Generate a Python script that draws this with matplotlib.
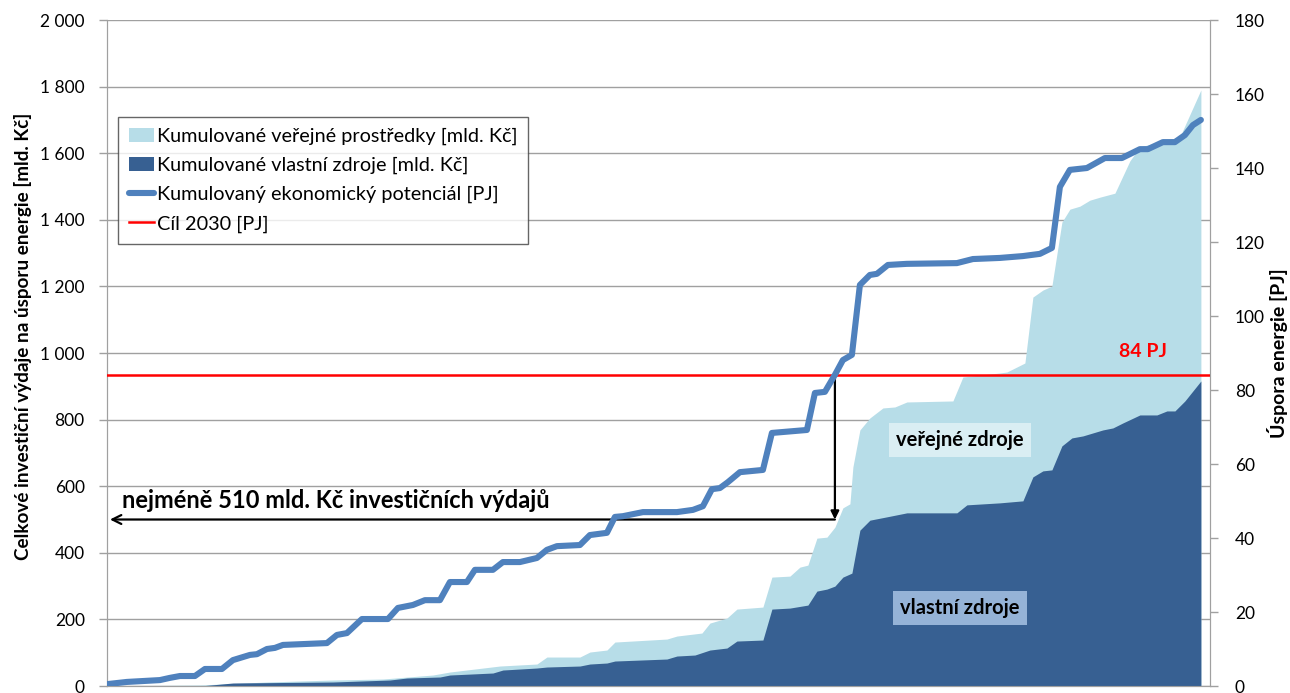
import numpy as np
import matplotlib.pyplot as plt
from matplotlib.patches import Patch
from matplotlib.lines import Line2D
from matplotlib.ticker import FuncFormatter

plt.rcParams['font.family'] = ['Lato', 'DejaVu Sans']

# measures ordered by cost; x = pořadí opatření (cumulative index)
pot_x = [0, 2, 5.3, 6.3, 7.3, 8.8, 9.8, 11.5, 12.6, 14.3, 15.0, 16.0, 16.8, 17.6, 22.0,
         23.0, 24.0, 25.5, 28.1, 29.1, 30.6, 31.8, 33.3, 34.3, 36.0, 36.8, 38.6, 39.6,
         41.3, 43.0, 44.0, 45.0, 47.3, 48.3, 50.0, 50.8, 51.6, 53.6, 57.0, 58.6, 59.6,
         60.5, 61.3, 62.1, 63.3, 65.6, 66.5, 70.0, 70.8, 71.8, 72.8, 73.6, 74.5, 75.3,
         76.3, 77.0, 78.1, 80.0, 85.0, 86.6, 89.3, 91.6, 93.3, 94.5, 95.3, 96.3, 98.0,
         99.8, 101.5, 103.3, 104.1, 105.6, 106.8, 107.8, 108.6, 109.4]
# Kumulovaný ekonomický potenciál [PJ]
pot_pj = [0.5, 1.1, 1.6, 2.2, 2.7, 2.7, 4.6, 4.6, 7.0, 8.4, 8.6, 10.0, 10.3, 11.1, 11.6,
          13.8, 14.3, 18.1, 18.1, 21.1, 21.9, 23.2, 23.2, 28.1, 28.1, 31.4, 31.4, 33.5,
          33.5, 34.6, 36.8, 37.8, 38.1, 40.8, 41.4, 45.7, 45.9, 47.0, 47.0, 47.6, 48.6,
          53.2, 53.5, 55.1, 57.8, 58.4, 68.4, 69.2, 79.2, 79.5, 84.1, 88.1, 89.5, 108.4,
          111.1, 111.4, 113.8, 114.1, 114.3, 115.4, 115.7, 116.2, 116.8, 118.4, 134.9,
          139.5, 140.0, 142.7, 142.7, 145.1, 145.1, 147.0, 147.0, 148.9, 151.6, 153.0]

# Kumulované vlastní zdroje [mld. Kč]
own_x = [0, 9.3, 12.6, 22.6, 28.3, 30.0, 33.3, 34.3, 38.6, 39.6, 43.0, 44.0, 47.3, 48.3,
         50.0, 50.8, 56.0, 57.0, 58.8, 60.3, 62.0, 63.0, 65.6, 66.5, 68.3, 70.1, 71.0,
         72.0, 72.8, 73.6, 74.5, 75.3, 76.3, 78.0, 80.0, 85.0, 86.0, 89.3, 91.6, 92.6,
         93.6, 94.5, 95.5, 96.5, 97.6, 99.6, 100.6, 101.6, 103.3, 105.0, 106.0, 106.8,
         107.8, 109.4]
own_val = [0, 0, 9, 12, 18, 24, 27, 33, 39, 48, 54, 57, 60, 66, 69, 75, 81, 90, 93, 108,
           114, 135, 138, 231, 234, 243, 285, 291, 300, 327, 339, 468, 498, 508, 520, 520,
           544, 550, 556, 628, 646, 649, 721, 745, 751, 769, 775, 790, 814, 814, 826, 826,
           856, 916]

# Kumulované veřejné prostředky (vrchol plochy, vlastní + veřejné) [mld. Kč]
tot_x = [0, 9.3, 16.0, 22.6, 27.6, 32.6, 34.3, 39.3, 43.0, 44.0, 47.3, 48.3, 50.0, 50.8,
         56.0, 57.0, 59.5, 60.3, 62.0, 63.0, 65.6, 66.5, 68.3, 69.3, 70.1, 71.0, 72.0,
         72.8, 73.6, 74.3, 74.6, 75.3, 76.3, 77.6, 78.8, 80.0, 84.6, 85.6, 89.3, 90.0,
         91.8, 92.6, 93.6, 94.5, 95.5, 96.3, 97.3, 98.3, 99.3, 100.8, 102.3, 103.3,
         107.3, 109.4]
tot_val = [0, 3, 12, 18, 21, 33, 42, 60, 66, 87, 87, 102, 108, 132, 141, 150, 159, 189,
           204, 231, 237, 327, 330, 357, 363, 444, 447, 477, 535, 547, 658, 769, 805, 835,
           838, 853, 856, 928, 940, 943, 970, 1168, 1189, 1201, 1393, 1432, 1441, 1459,
           1468, 1480, 1577, 1619, 1649, 1790]

TARGET_PJ = 84
MIN_INVEST = 500  # level of the horizontal arrow [mld. Kč]
CROSS_X = 72.8    # where potential reaches the 84 PJ target

C_LIGHT = '#B7DDE8'
C_DARK = '#376092'
C_LINE = '#4F81BD'
C_GRID = '#A0A0A0'

fig = plt.figure(figsize=(12.9, 6.93), dpi=100)
ax = fig.add_axes([0.0829, 0.0101, 0.855, 0.961])
ax2 = ax.twinx()

ax.fill_between(tot_x, 0, tot_val, color=C_LIGHT, lw=0, zorder=2)
ax.fill_between(own_x, 0, own_val, color=C_DARK, lw=0, zorder=3)

ax.set_xlim(0, 110.3)
ax.set_ylim(0, 2000)
ax.set_yticks(np.arange(0, 2001, 200))
ax.yaxis.set_major_formatter(FuncFormatter(lambda v, p: f"{v:,.0f}".replace(",", " ")))
ax.set_xticks([])
ax.grid(axis='y', color=C_GRID, lw=1.0, zorder=0)
ax.set_axisbelow(True)

ax2.plot(pot_x, pot_pj, color=C_LINE, lw=4.4, solid_joinstyle='round',
         solid_capstyle='round', zorder=5)
ax2.axhline(TARGET_PJ, color='#FF0000', lw=1.8, zorder=4)
ax2.set_ylim(0, 180)
ax2.set_yticks(np.arange(0, 181, 20))

for a in (ax, ax2):
    for s in a.spines.values():
        s.set_color(C_GRID)
    a.spines['top'].set_visible(False)
    a.tick_params(axis='y', colors=C_GRID, labelcolor='black', labelsize=12.5,
                  length=6, width=1)
ax.tick_params(axis='y', pad=10)
ax2.tick_params(axis='y', pad=12)

ax.set_ylabel('Celkové investiční výdaje na úsporu energie [mld. Kč]',
              fontsize=13.6, fontweight='bold')
ax.yaxis.set_label_coords(-0.068, 0.5255)
ax2.set_ylabel('Úspora energie [PJ]', fontsize=14, fontweight='bold')
ax2.yaxis.set_label_coords(1.0517, 0.5)

# arrows: from target crossing down to the cost axis
ax.annotate('', xy=(CROSS_X, MIN_INVEST), xytext=(CROSS_X, TARGET_PJ * 2000 / 180),
            arrowprops=dict(arrowstyle='-|>', color='black', lw=1.6,
                            shrinkA=0, shrinkB=0, mutation_scale=12), zorder=6)
ax.annotate('', xy=(0.3, MIN_INVEST), xytext=(CROSS_X, MIN_INVEST),
            arrowprops=dict(arrowstyle='->', color='black', lw=1.6,
                            shrinkA=0, shrinkB=0, mutation_scale=16), zorder=6)
ax.text(1.5, MIN_INVEST + 22, 'nejméně 510 mld. Kč investičních výdajů',
        fontsize=17, fontweight='bold', va='bottom', ha='left', zorder=6)

ax.text(85.3, 739, 'veřejné zdroje', fontsize=14.5, fontweight='bold',
        ha='center', va='center', zorder=6,
        bbox=dict(boxstyle='square,pad=0.35', fc='#DAEEF3', ec='none'))
ax.text(85.3, 234, 'vlastní zdroje', fontsize=14.5, fontweight='bold',
        ha='center', va='center', zorder=6,
        bbox=dict(boxstyle='square,pad=0.35', fc='#95B3D7', ec='none'))
ax2.text(103.6, 90.3, '84 PJ', fontsize=14, fontweight='bold', color='#FF0000',
         ha='center', va='center', zorder=6)

handles = [Patch(fc=C_LIGHT, ec='none'), Patch(fc=C_DARK, ec='none'),
           Line2D([], [], color=C_LINE, lw=4.4, solid_capstyle='round'),
           Line2D([], [], color='#FF0000', lw=1.8)]
labels = ['Kumulované veřejné prostředky [mld. Kč]',
          'Kumulované vlastní zdroje [mld. Kč]',
          'Kumulovaný ekonomický potenciál [PJ]',
          'Cíl 2030 [PJ]']
leg = ax2.legend(handles, labels, loc='upper left', bbox_to_anchor=(0.01, 0.855),
                 borderaxespad=0, fontsize=14.3, frameon=True, fancybox=False,
                 handlelength=1.25, handletextpad=0.15, labelspacing=0.6,
                 borderpad=0.55)
leg.get_frame().set_edgecolor('#404040')
leg.get_frame().set_linewidth(1.0)
leg.set_zorder(10)

fig.savefig('out.png', dpi=100)
